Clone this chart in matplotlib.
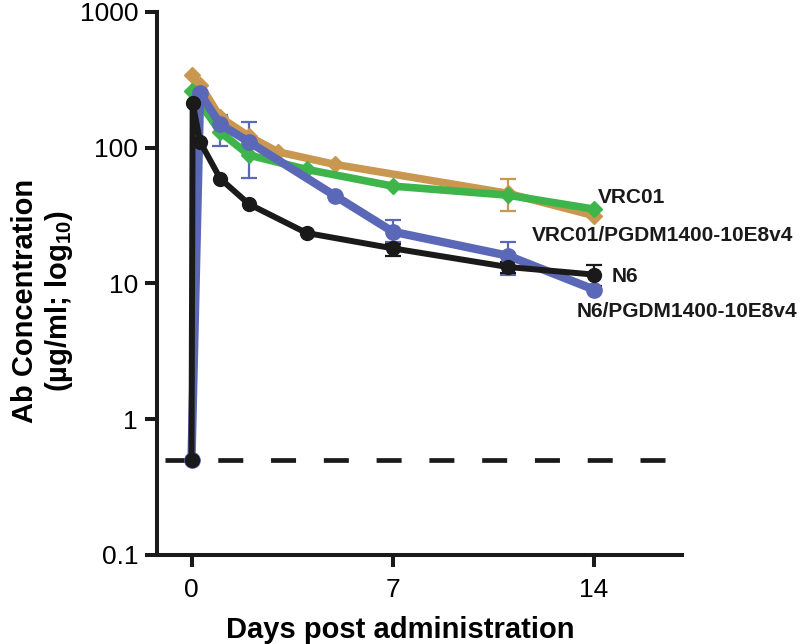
import matplotlib
matplotlib.use("Agg")
import matplotlib.pyplot as plt
import numpy as np

plt.rcParams['font.family'] = ['Liberation Sans', 'DejaVu Sans']
plt.rcParams['mathtext.fontset'] = 'custom'
plt.rcParams['mathtext.rm'] = 'Liberation Sans:bold'
plt.rcParams['mathtext.default'] = 'rm'
plt.rcParams['lines.scale_dashes'] = False

# ---------------- data ----------------
tan_days = [0, 0.3, 1, 2, 3, 5, 11, 14]
tan_vals = [340, 290, 167, 121, 93, 75, 46, 31.5]
tan_err_days = [11]
tan_err_lo = [34]
tan_err_hi = [58.5]

green_days = [0, 1, 2, 4, 7, 11, 14]
green_vals = [262, 130, 88, 69, 52, 44.6, 35.2]

blue_days = [0, 0.3, 1, 2, 5, 7, 11, 14]
blue_vals = [0.5, 250, 148, 110, 44, 24, 16, 9.0]
blue_err_days = [1, 2, 7, 11]
blue_err_lo = [102, 60, 20, 11.5]
blue_err_hi = [173, 153, 29.2, 20.2]

black_days = [0, 0.04, 0.3, 1, 2, 4, 7, 11, 14]
black_vals = [0.5, 211, 110, 59, 38.3, 23.5, 18.1, 13.2, 11.6]
black_err_days = [7, 11, 14]
black_err_lo = [15.9, 12.0, 9.5]
black_err_hi = [19.5, 14.3, 13.6]

lloq = 0.5
x_ticks = [0, 7, 14]
y_ticks = [0.1, 1, 10, 100, 1000]
y_tick_labels = ["0.1", "1", "10", "100", "1000"]

labels = {
    'green': "VRC01",
    'tan': "VRC01/PGDM1400-10E8v4",
    'black': "N6",
    'blue': "N6/PGDM1400-10E8v4",
}

TAN = '#C9974F'
GREEN = '#3DB54A'
BLUE = '#5B67B7'
BLACK = '#1a1a1a'

fig = plt.figure(figsize=(8, 6.44), dpi=100)
ax = fig.add_axes([0.19625, 0.13820, 0.65625, 0.84363])

# LLOQ dashed line
ax.plot([-0.92, 16.6], [lloq, lloq], color=BLACK, lw=3.4, dashes=(18, 20),
        solid_capstyle='butt', dash_capstyle='butt', zorder=1)


def err(ax, days, vals, edays, lo, hi, color, lw, cap):
    lookup = dict(zip(days, vals))
    mids = np.array([lookup[d] for d in edays])
    lo = np.array(lo)
    hi = np.array(hi)
    ax.errorbar(edays, mids, yerr=[mids - lo, hi - mids], fmt='none',
                ecolor=color, elinewidth=lw, capsize=cap, capthick=lw, zorder=2)


# tan
err(ax, tan_days, tan_vals, tan_err_days, tan_err_lo, tan_err_hi, TAN, 1.6, 6)
ax.plot(tan_days, tan_vals, color=TAN, lw=5.5, marker='D', ms=8, zorder=3)
# green
ax.plot(green_days, green_vals, color=GREEN, lw=5.5, marker='D', ms=8, zorder=4)
# blue
err(ax, blue_days, blue_vals, blue_err_days, blue_err_lo, blue_err_hi, BLUE, 1.6, 6)
ax.plot(blue_days, blue_vals, color=BLUE, lw=6, marker='o', ms=11, zorder=5)
# black
err(ax, black_days, black_vals, black_err_days, black_err_lo, black_err_hi, BLACK, 1.6, 6)
ax.plot(black_days, black_vals, color=BLACK, lw=4.3, marker='o', ms=10, zorder=6)

# labels at line ends (offsets in pixels)
tk = dict(fontsize=15, fontweight='bold', color=BLACK, textcoords='offset pixels',
          ha='left', va='baseline')
ax.annotate(labels['green'], (green_days[-1], green_vals[-1]), xytext=(4, 6), **tk)
ax.annotate(labels['tan'], (tan_days[-1], tan_vals[-1]), xytext=(-62, -25), **tk)
ax.annotate(labels['black'], (black_days[-1], black_vals[-1]), xytext=(18, -7), **tk)
ax.annotate(labels['blue'], (blue_days[-1], blue_vals[-1]), xytext=(-17, -27), **tk)

ax.set_yscale('log')
ax.set_ylim(0.1, 1000)
ax.set_xlim(-1.2, 17.06)
ax.set_xticks(x_ticks)
ax.set_xticklabels([str(t) for t in x_ticks])
ax.set_yticks(y_ticks)
ax.set_yticklabels(y_tick_labels)
ax.yaxis.set_minor_locator(matplotlib.ticker.NullLocator())

for s in ['top', 'right']:
    ax.spines[s].set_visible(False)
for s in ['left', 'bottom']:
    ax.spines[s].set_linewidth(2.9)
    ax.spines[s].set_color(BLACK)
ax.tick_params(axis='both', which='major', length=8.6, width=2.9, color=BLACK,
               labelsize=19, direction='out')
ax.tick_params(axis='x', pad=8)
ax.tick_params(axis='y', pad=5)

ax.set_xlabel("Days post administration", fontsize=21, fontweight='bold')
ax.xaxis.set_label_coords(0.463, -0.112)
ax.set_ylabel("Ab Concentration\n(µg/ml; log$_{10}$)", fontsize=21, fontweight='bold',
              linespacing=1.15)
ax.yaxis.set_label_coords(-0.156, 0.4675)

fig.savefig("out.png", dpi=100)
